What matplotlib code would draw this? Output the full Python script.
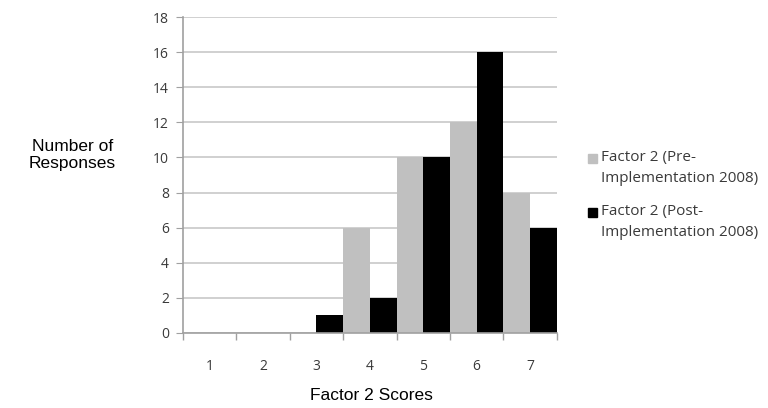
import numpy as np
import matplotlib.pyplot as plt
from matplotlib.patches import Rectangle

scores = ['1', '2', '3', '4', '5', '6', '7']
pre = [0, 0, 0, 6, 10, 12, 8]
post = [0, 0, 1, 2, 10, 16, 6]
labels = ['Factor 2 (Pre-\nImplementation 2008)', 'Factor 2 (Post-\nImplementation 2008)']
colors = ['#c0c0c0', 'black']

tick_font = 'Open Sans'
label_font = 'Liberation Sans'

fig = plt.figure(figsize=(7.68, 4.08), dpi=100)
ax = fig.add_axes([0.238, 0.184, 0.487, 0.774])

x = np.arange(len(scores))
w = 0.5
ax.bar(x - w / 2, pre, width=w, color=colors[0], zorder=2)
ax.bar(x + w / 2, post, width=w, color=colors[1], zorder=2)

ax.set_xlim(-0.5, len(scores) - 0.5)
ax.set_ylim(0, 18)
ax.set_yticks(range(0, 19, 2))
ax.set_xticks(x)
ax.set_xticklabels(scores)
ax.set_xticks(np.arange(-0.5, len(scores), 1), minor=True)
ax.tick_params(axis='x', which='major', length=0, pad=19)
ax.tick_params(axis='x', which='minor', length=5, color='#a0a0a0', width=1)
ax.tick_params(axis='y', length=5, color='#a0a0a0', pad=5)
for t in ax.get_xticklabels() + ax.get_yticklabels():
    t.set_fontfamily(tick_font)
    t.set_fontsize(10)
    t.set_color('#3a3a3a')

ax.grid(axis='y', color='#c8c8c8', linewidth=1.2, zorder=0)
for s in ['top', 'right']:
    ax.spines[s].set_visible(False)
for s in ['left', 'bottom']:
    ax.spines[s].set_color('#a0a0a0')
    ax.spines[s].set_linewidth(1.2)

fig.text(0.094, 0.62, 'Number of\nResponses', ha='center', va='center',
         fontsize=12.5, family=label_font, linespacing=1.15)
fig.text(0.483, 0.03, 'Factor 2 Scores', ha='center', va='center',
         fontsize=12.5, family=label_font)

# legend drawn by hand so the swatch sits on the first text line
for i, (lab, c) in enumerate(zip(labels, colors)):
    top = 1 - (150 + 54 * i) / 408
    fig.add_artist(Rectangle((588 / 768, top - 13 / 408), 9 / 768, 9 / 408,
                             transform=fig.transFigure, color=c))
    fig.text(601 / 768, top, lab, ha='left', va='top', fontsize=11,
             family=tick_font, color='#3a3a3a', linespacing=1.5)

fig.savefig('out.png', dpi=100)
